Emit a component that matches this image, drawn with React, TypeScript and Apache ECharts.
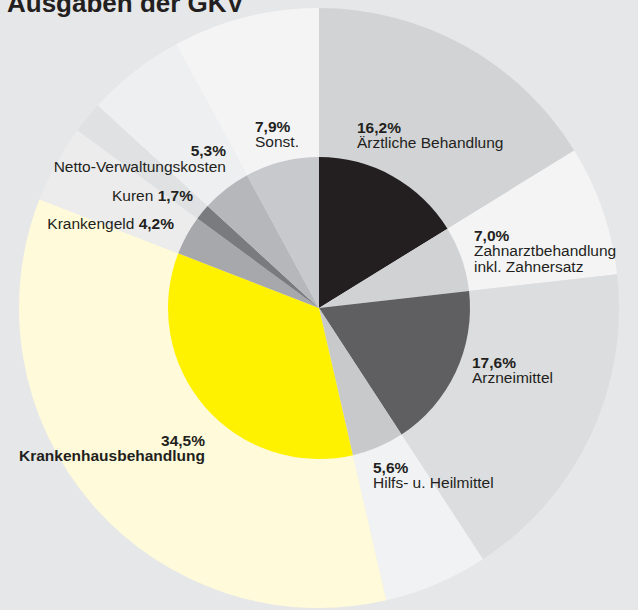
import React, { useEffect, useRef } from "react";
import * as echarts from "echarts";

const categories = [
  "Ärztliche Behandlung",
  "Zahnarztbehandlung\ninkl. Zahnersatz",
  "Arzneimittel",
  "Hilfs- u. Heilmittel",
  "Krankenhausbehandlung",
  "Krankengeld",
  "Kuren",
  "Netto-Verwaltungskosten",
  "Sonst.",
];
const shares = [16.2, 7.0, 17.6, 5.6, 34.5, 4.2, 1.7, 5.3, 7.9];
const title = "Ausgaben der GKV";

const innerColors = ["#231f20", "#d1d2d4", "#5f5f61", "#c8c9cb", "#fff200", "#a7a8ab", "#7a7b7e", "#b6b7ba", "#c8c9cc"];
const outerColors = ["#d2d3d5", "#f4f4f5", "#dcdddf", "#f1f2f4", "#fffad9", "#ececed", "#e0e1e3", "#eeeff1", "#f4f4f5"];
// label kind: 0 = bold % over name, 1 = bold % over bold name, 2 = name + bold % on one line
const labelKind = [0, 0, 0, 0, 1, 2, 2, 0, 0];
const labelPos: [number, number, "left" | "right"][] = [
  [357, 119.5, "left"],
  [474, 227.5, "left"],
  [472, 354.5, "left"],
  [373, 459.5, "left"],
  [205, 432.5, "right"],
  [174, 215.5, "right"],
  [193, 187.5, "right"],
  [226, 143, "right"],
  [255, 118.5, "left"],
];

const fmt = (v: number) => v.toFixed(1).replace(".", ",") + "%";

export default function App() {
  const ref = useRef<HTMLDivElement>(null);
  useEffect(() => {
    if (!ref.current) return;
    const chart = echarts.init(ref.current, undefined, { renderer: "svg" });
    const font = "'Liberation Sans', Arial, sans-serif";
    const center = [319, 308];
    chart.setOption({
      animation: false,
      backgroundColor: "#e6e7e9",
      title: {
        text: title,
        left: 2,
        top: -15,
        textStyle: { fontFamily: font, fontSize: 26, fontWeight: "bold", color: "#231f20" },
      },
      series: [
        {
          type: "pie",
          name: "outer",
          center,
          radius: [150, 300],
          startAngle: 90,
          clockwise: true,
          silent: true,
          avoidLabelOverlap: false,
          itemStyle: { borderWidth: 0 },
          emphasis: { disabled: true },
          labelLine: { show: false },
          label: {
            show: true,
            position: "inside",
            color: "#231f20",
            fontFamily: font,
            formatter: (p: any) => {
              const i = p.dataIndex;
              const pct = fmt(shares[i]);
              const lines = String(categories[i]).split("\n");
              if (labelKind[i] === 0) return `{b|${pct}}\n` + lines.map((l) => `{n|${l}}`).join("\n");
              if (labelKind[i] === 1) return `{b|${pct}}\n` + lines.map((l) => `{b|${l}}`).join("\n");
              return `{n|${lines.join(" ")} }{b|${pct}}`;
            },
            rich: {
              b: { fontFamily: font, fontSize: 15.5, fontWeight: "bold", color: "#231f20", lineHeight: 15.5 },
              n: { fontFamily: font, fontSize: 15.5, color: "#231f20", lineHeight: 15.5 },
            },
          },
          labelLayout: (p: any) => {
            const pos = labelPos[p.dataIndex];
            return { x: pos[0], y: pos[1], align: pos[2], verticalAlign: "top" };
          },
          data: categories.map((c, i) => ({ name: c, value: shares[i], itemStyle: { color: outerColors[i] } })),
        },
        {
          type: "pie",
          name: "inner",
          center,
          radius: [0, 151],
          startAngle: 90,
          clockwise: true,
          silent: true,
          itemStyle: { borderWidth: 0 },
          emphasis: { disabled: true },
          label: { show: false },
          labelLine: { show: false },
          data: categories.map((c, i) => ({ name: c, value: shares[i], itemStyle: { color: innerColors[i] } })),
        },
      ],
    });
    return () => chart.dispose();
  }, []);
  return <div ref={ref} style={{ position: "absolute", left: 0, top: 0, width: 638, height: 610 }} />;
}
